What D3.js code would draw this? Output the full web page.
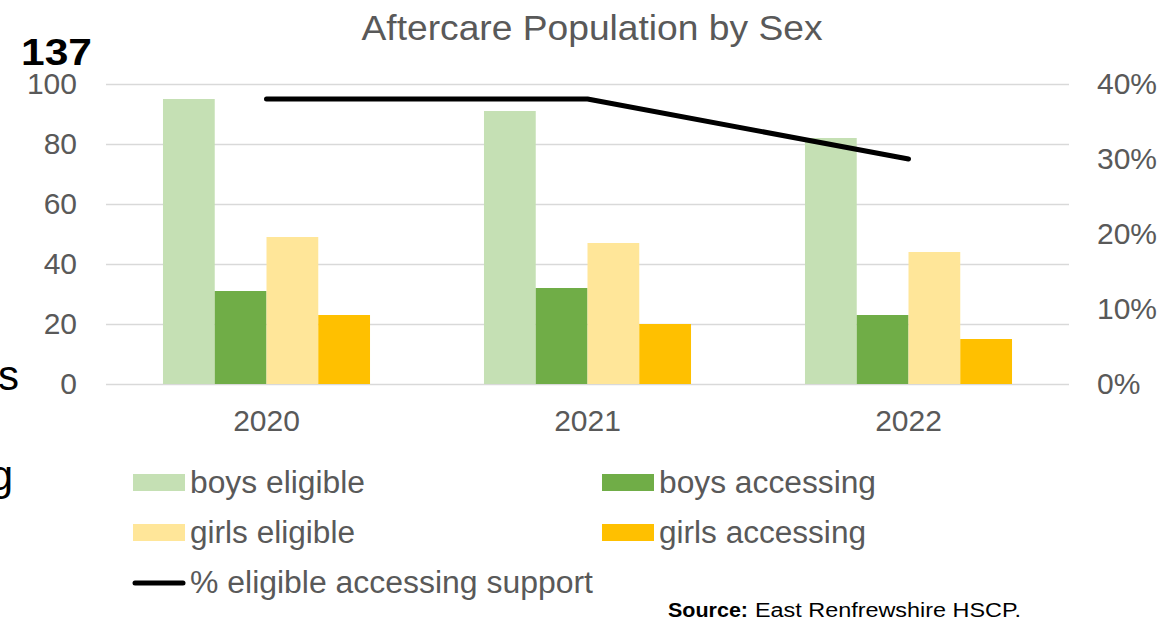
<!DOCTYPE html>
<html>
<head>
<meta charset="utf-8">
<script src="https://cdn.jsdelivr.net/npm/d3@7"></script>
<style>
  html, body { margin: 0; padding: 0; background: #fff; }
  svg { display: block; font-family: "Liberation Sans", Arial, sans-serif; }
</style>
</head>
<body>
<svg id="chart" width="1168" height="637"></svg>
<script>
// ---- data ----
const years = ["2020", "2021", "2022"];
const seriesNames = ["boys eligible", "boys accessing", "girls eligible", "girls accessing"];
const boysEligible = [95, 91, 82];
const boysAccessing = [31, 32, 23];
const girlsEligible = [49, 47, 44];
const girlsAccessing = [23, 20, 15];
const pctAccessing = [0.38, 0.38, 0.30];
const leftTicks = [0, 20, 40, 60, 80, 100];
const rightTicks = [0, 0.1, 0.2, 0.3, 0.4];
const lineName = "% eligible accessing support";
const seriesColors = ["#C5E0B4", "#70AD47", "#FFE699", "#FFC000"];

const seriesValues = [boysEligible, boysAccessing, girlsEligible, girlsAccessing];

const svg = d3.select("#chart");
const textGray = "#595959";
const plotLeft = 106, plotRight = 1069, plotTop = 84, plotBottom = 384;

const x0 = d3.scaleBand().domain(years).range([plotLeft, plotRight])
  .paddingInner(0.355).paddingOuter(0.1775);
const x1 = d3.scaleBand().domain(seriesNames).range([0, x0.bandwidth()]);
const y = d3.scaleLinear().domain([0, 100]).range([plotBottom, plotTop]);
const y2 = d3.scaleLinear().domain([0, 0.4]).range([plotBottom, plotTop]);

// title
svg.append("text")
  .attr("x", 592).attr("y", 40)
  .attr("text-anchor", "middle")
  .attr("font-size", 35)
  .attr("fill", textGray)
  .attr("textLength", 461).attr("lengthAdjust", "spacingAndGlyphs")
  .text("Aftercare Population by Sex");

// gridlines
const grid = svg.append("g").attr("transform", `translate(${plotLeft},0)`)
  .call(d3.axisLeft(y).tickValues(leftTicks).tickSize(-(plotRight - plotLeft)).tickFormat(""));
grid.select(".domain").remove();
grid.selectAll(".tick line").attr("stroke", "#D9D9D9").attr("stroke-width", 1.5);

// left axis labels
const leftAxis = svg.append("g").attr("transform", `translate(${plotLeft},0)`)
  .call(d3.axisLeft(y).tickValues(leftTicks).tickSize(0).tickPadding(29));
leftAxis.select(".domain").remove();
leftAxis.selectAll("text").attr("font-size", 30).attr("fill", textGray)
  .attr("font-family", "Liberation Sans, Arial, sans-serif");

// right axis labels
const rightAxis = svg.append("g").attr("transform", `translate(${plotRight},0)`)
  .call(d3.axisRight(y2).tickValues(rightTicks).tickSize(0).tickPadding(28).tickFormat(d3.format(".0%")));
rightAxis.select(".domain").remove();
rightAxis.selectAll("text").attr("font-size", 30).attr("fill", textGray)
  .attr("font-family", "Liberation Sans, Arial, sans-serif");

// bars
const groups = svg.append("g").selectAll("g").data(years).join("g")
  .attr("transform", d => `translate(${x0(d)},0)`);
groups.selectAll("rect")
  .data((yr, i) => seriesNames.map((s, j) => ({ s, j, v: seriesValues[j][i] })))
  .join("rect")
  .attr("x", d => x1(d.s))
  .attr("width", x1.bandwidth())
  .attr("y", d => y(d.v))
  .attr("height", d => y(0) - y(d.v))
  .attr("fill", d => seriesColors[d.j]);

// x axis labels
const xAxis = svg.append("g").attr("transform", `translate(0,${plotBottom})`)
  .call(d3.axisBottom(x0).tickSize(0).tickPadding(26));
xAxis.select(".domain").remove();
xAxis.selectAll("text").attr("font-size", 30).attr("fill", textGray)
  .attr("font-family", "Liberation Sans, Arial, sans-serif");

// line
const line = d3.line()
  .x((d, i) => x0(years[i]) + x0.bandwidth() / 2)
  .y(d => y2(d));
svg.append("path").datum(pctAccessing)
  .attr("d", line)
  .attr("fill", "none")
  .attr("stroke", "#000")
  .attr("stroke-width", 5)
  .attr("stroke-linecap", "round")
  .attr("stroke-linejoin", "round");

// legend
const legendItems = [
  { name: seriesNames[0], color: seriesColors[0], x: 133, y: 482.5, w: 175 },
  { name: seriesNames[1], color: seriesColors[1], x: 602, y: 482.5, w: 217 },
  { name: seriesNames[2], color: seriesColors[2], x: 133, y: 532.5, w: 165 },
  { name: seriesNames[3], color: seriesColors[3], x: 602, y: 532.5, w: 207 }
];
const lg = svg.append("g");
legendItems.forEach(it => {
  lg.append("rect").attr("x", it.x).attr("y", it.y - 8.5).attr("width", 52).attr("height", 17)
    .attr("fill", it.color);
  lg.append("text").attr("x", it.x + 57).attr("y", it.y + 10)
    .attr("font-size", 31).attr("fill", textGray)
    .attr("textLength", it.w).attr("lengthAdjust", "spacingAndGlyphs")
    .text(it.name);
});
lg.append("line").attr("x1", 135).attr("x2", 183).attr("y1", 583).attr("y2", 583)
  .attr("stroke", "#000").attr("stroke-width", 5).attr("stroke-linecap", "round");
lg.append("text").attr("x", 190).attr("y", 593)
  .attr("font-size", 31).attr("fill", textGray)
  .attr("textLength", 403).attr("lengthAdjust", "spacingAndGlyphs")
  .text(lineName);

// stray page text
svg.append("text").attr("x", 21).attr("y", 65)
  .attr("font-size", 36).attr("font-weight", "bold").attr("fill", "#000")
  .attr("textLength", 71).attr("lengthAdjust", "spacingAndGlyphs")
  .text("137");
svg.append("text").attr("x", 19).attr("y", 390).attr("text-anchor", "end")
  .attr("font-size", 42).attr("fill", "#000").text("s");
svg.append("text").attr("x", 13).attr("y", 490).attr("text-anchor", "end")
  .attr("font-size", 42).attr("fill", "#000").text("g");

// source
svg.append("text").attr("x", 668).attr("y", 617)
  .attr("font-size", 20).attr("font-weight", "bold").attr("fill", "#000")
  .attr("textLength", 80).attr("lengthAdjust", "spacingAndGlyphs")
  .text("Source:");
svg.append("text").attr("x", 755).attr("y", 617)
  .attr("font-size", 20).attr("fill", "#000")
  .attr("textLength", 266).attr("lengthAdjust", "spacingAndGlyphs")
  .text("East Renfrewshire HSCP.");
</script>
</body>
</html>
